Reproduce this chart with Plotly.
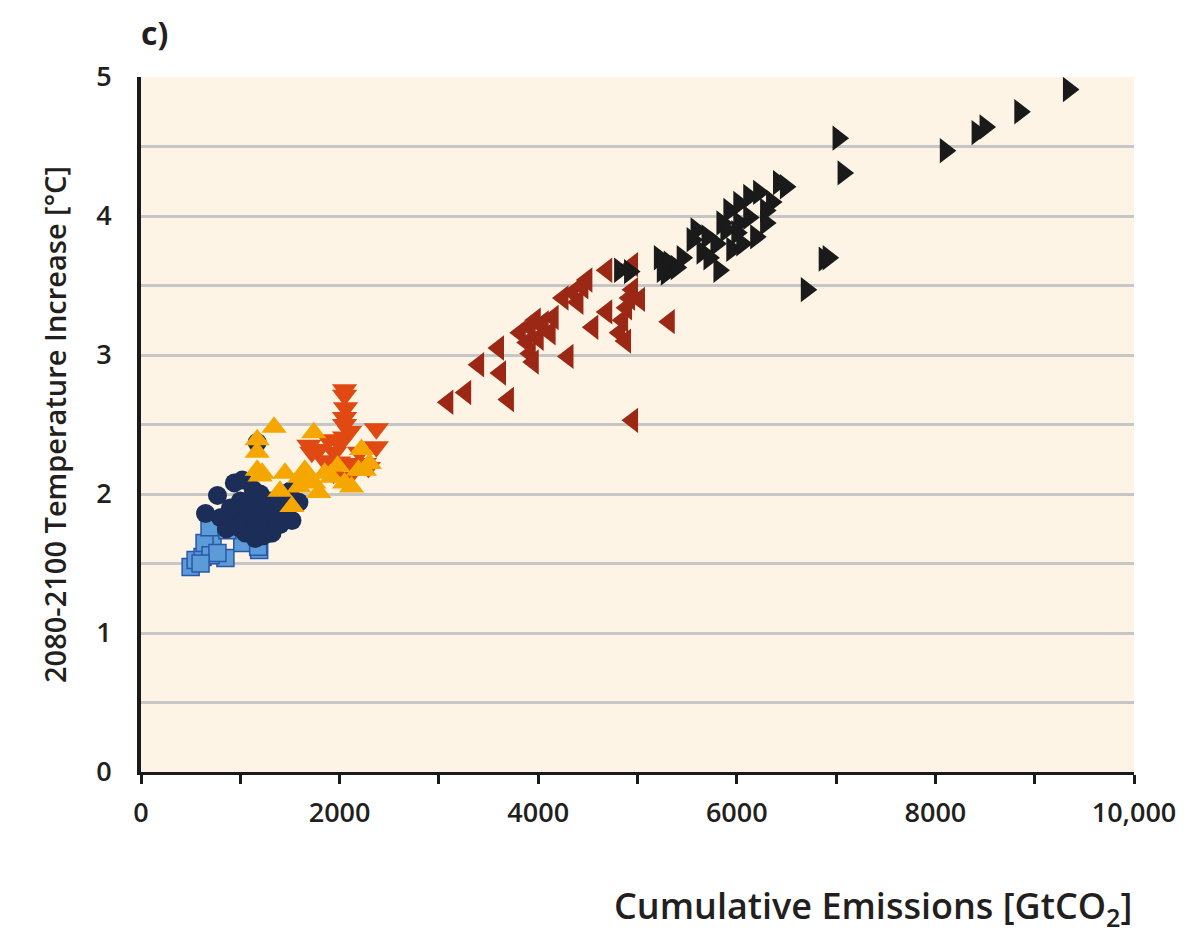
import plotly.graph_objects as go

# Light blue squares
sq_x = [500, 550, 620, 720, 640, 850, 1020, 1190, 700, 770, 690, 870, 600, 1180]
sq_y = [1.475, 1.525, 1.547, 1.655, 1.647, 1.54, 1.647, 1.597, 1.56, 1.575, 1.76, 1.74, 1.50, 1.62]

# Navy circles
ci_x = [650, 770, 940, 1020, 880, 950, 1000, 1050, 1100, 1150, 1200, 1250, 1300, 1350, 1400,
        1450, 1520, 1590, 1320, 1170, 1100, 1200, 1250, 1050, 1150, 1300, 1380, 900, 1000, 1130,
        1230, 1450, 1500, 800, 980, 1080, 1280, 1180, 1420, 860]
ci_y = [1.86, 1.99, 2.08, 2.10, 1.80, 1.85, 1.78, 1.90, 1.82, 1.75, 1.88, 1.80, 1.72, 1.85, 1.78,
        1.92, 1.81, 1.94, 1.72, 2.37, 1.95, 2.00, 1.92, 1.72, 1.68, 1.95, 1.88, 1.90, 1.95, 2.03,
        1.70, 1.98, 2.02, 1.83, 1.76, 1.86, 1.84, 1.79, 1.86, 1.75]

# Orange-red down triangles
dn_x = [2050, 2050, 2050, 2050, 2050, 2370, 2370, 1690, 1790, 1890, 1950, 1990, 2120, 2250,
        1850, 2090, 2290, 2200, 1720, 2000, 2100, 2060, 1940]
dn_y = [2.75, 2.71, 2.55, 2.50, 2.41, 2.47, 2.34, 2.35, 2.32, 2.39, 2.30, 2.23, 2.22, 2.22,
        2.24, 2.12, 2.19, 2.30, 2.30, 2.36, 2.45, 2.62, 2.15]

# Amber up triangles
up_x = [1340, 1740, 1170, 1170, 1170, 1220, 1450, 1520, 1590, 1650, 1740, 1790, 1920, 2050,
        2120, 2190, 2250, 2220, 1600, 1850, 1980, 2300, 1200, 1680, 1400]
up_y = [2.48, 2.44, 2.39, 2.30, 2.17, 2.15, 2.15, 1.91, 2.05, 2.17, 2.08, 2.01, 2.12, 2.08,
        2.05, 2.17, 2.17, 2.32, 2.12, 2.15, 2.20, 2.22, 2.13, 2.10, 2.02]

# Dark red left triangles
lt_x = [3090, 3270, 3700, 3400, 3620, 3600, 4300, 3920, 3890, 3820, 3920, 3970, 4050, 4120,
        4150, 4250, 4350, 4450, 4490, 4550, 4690, 4820, 4850, 4890, 4920, 4950, 5020, 4690,
        4950, 5320, 4950, 3950, 4000, 4400, 4880]
lt_y = [2.66, 2.73, 2.68, 2.93, 2.87, 3.05, 2.99, 3.01, 3.09, 3.16, 3.20, 3.25, 3.23, 3.16,
        3.27, 3.41, 3.45, 3.49, 3.54, 3.20, 3.31, 3.16, 3.25, 3.34, 3.41, 3.47, 3.40, 3.61,
        3.65, 3.24, 2.53, 2.95, 3.12, 3.38, 3.10]

# Black right triangles
rt_x = [9340, 8850, 8500, 8420, 8100, 7020, 7070, 6490, 6420, 6920, 6880, 6700, 4820, 4920,
        5220, 5320, 5390, 5290, 5590, 5550, 5650, 5820, 5850, 5920, 6020, 6120, 6220, 6290,
        6290, 6190, 6050, 5950, 5790, 5720, 6020, 6120, 5890, 5450, 5250, 6350, 6000, 5700]
rt_y = [4.91, 4.75, 4.64, 4.60, 4.47, 4.56, 4.31, 4.21, 4.24, 3.70, 3.69, 3.47, 3.61, 3.60,
        3.70, 3.66, 3.63, 3.59, 3.90, 3.83, 3.74, 3.61, 3.95, 4.04, 4.09, 4.14, 4.17, 4.04,
        3.95, 3.85, 3.80, 3.76, 3.80, 3.70, 3.95, 3.99, 3.90, 3.70, 3.61, 4.10, 3.88, 3.85]

x_tick_vals = [0, 2000, 4000, 6000, 8000, 10000]
x_tick_text = ["0", "2000", "4000", "6000", "8000", "10,000"]
y_tick_vals = [0, 1, 2, 3, 4, 5]

FONT = "Open Sans"
TXT = "#231F20"

fig = go.Figure()
fig.add_trace(go.Scatter(x=sq_x, y=sq_y, mode="markers",
                         marker=dict(symbol="square", size=17, color="#5A9BD8",
                                     line=dict(color="#2B57A8", width=1.5))))
fig.add_trace(go.Scatter(x=ci_x, y=ci_y, mode="markers",
                         marker=dict(symbol="circle", size=19, color="#1C2D58",
                                     line=dict(width=0))))
fig.add_trace(go.Scatter(x=dn_x, y=dn_y, mode="markers",
                         marker=dict(symbol="triangle-down", size=22, color="#E04A12",
                                     line=dict(width=0))))
fig.add_trace(go.Scatter(x=up_x, y=up_y, mode="markers",
                         marker=dict(symbol="triangle-up", size=22, color="#F5A700",
                                     line=dict(width=0))))
fig.add_trace(go.Scatter(x=lt_x, y=lt_y, mode="markers",
                         marker=dict(symbol="triangle-left", size=22, color="#9B2715",
                                     line=dict(width=0))))
fig.add_trace(go.Scatter(x=rt_x, y=rt_y, mode="markers",
                         marker=dict(symbol="triangle-right", size=22, color="#1A1A1A",
                                     line=dict(width=0))))

fig.update_layout(
    width=1180, height=926,
    margin=dict(l=133, r=47, t=69, b=162),
    paper_bgcolor="white",
    plot_bgcolor="#FEF4E5",
    showlegend=False,
    font=dict(family=FONT, color=TXT),
    xaxis=dict(range=[0, 10000], tickvals=x_tick_vals, ticktext=x_tick_text,
               showgrid=False, zeroline=False, showline=True, linecolor="#1A1A1A",
               linewidth=3, ticks="outside", tickcolor="#1A1A1A", tickwidth=3, ticklen=9,
               ticklabelstandoff=6,
               minor=dict(dtick=1000, ticks="outside", ticklen=9, tickwidth=3,
                          tickcolor="#1A1A1A", showgrid=False),
               tickfont=dict(size=27, family=FONT, color=TXT, weight=600)),
    yaxis=dict(range=[0, 5], tickvals=y_tick_vals, showgrid=True, gridcolor="#C6C6C6",
               gridwidth=2.5, zeroline=False, showline=True, linecolor="#1A1A1A",
               linewidth=4, ticks="", ticklabelstandoff=20,
               minor=dict(dtick=0.5, showgrid=True, gridcolor="#C6C6C6", gridwidth=2.5),
               tickfont=dict(size=27, family=FONT, color=TXT, weight=600),
               title=dict(text="2080-2100 Temperature Increase [°C]", standoff=22,
                          font=dict(size=29, family=FONT, color=TXT, weight=600))),
    annotations=[
        dict(text="Cumulative Emissions [GtCO<sub>2</sub>]", xref="paper", yref="paper",
             x=1.0, y=-0.195, xanchor="right", yanchor="middle", showarrow=False,
             font=dict(size=36, family=FONT, color=TXT, weight=600)),
        dict(text="c)", xref="paper", yref="paper", x=0.0, y=1.0, xshift=-2, yshift=45,
             xanchor="left", yanchor="middle", showarrow=False,
             font=dict(size=32, family=FONT, color=TXT, weight=700)),
    ],
)

fig.write_html("out.html")
